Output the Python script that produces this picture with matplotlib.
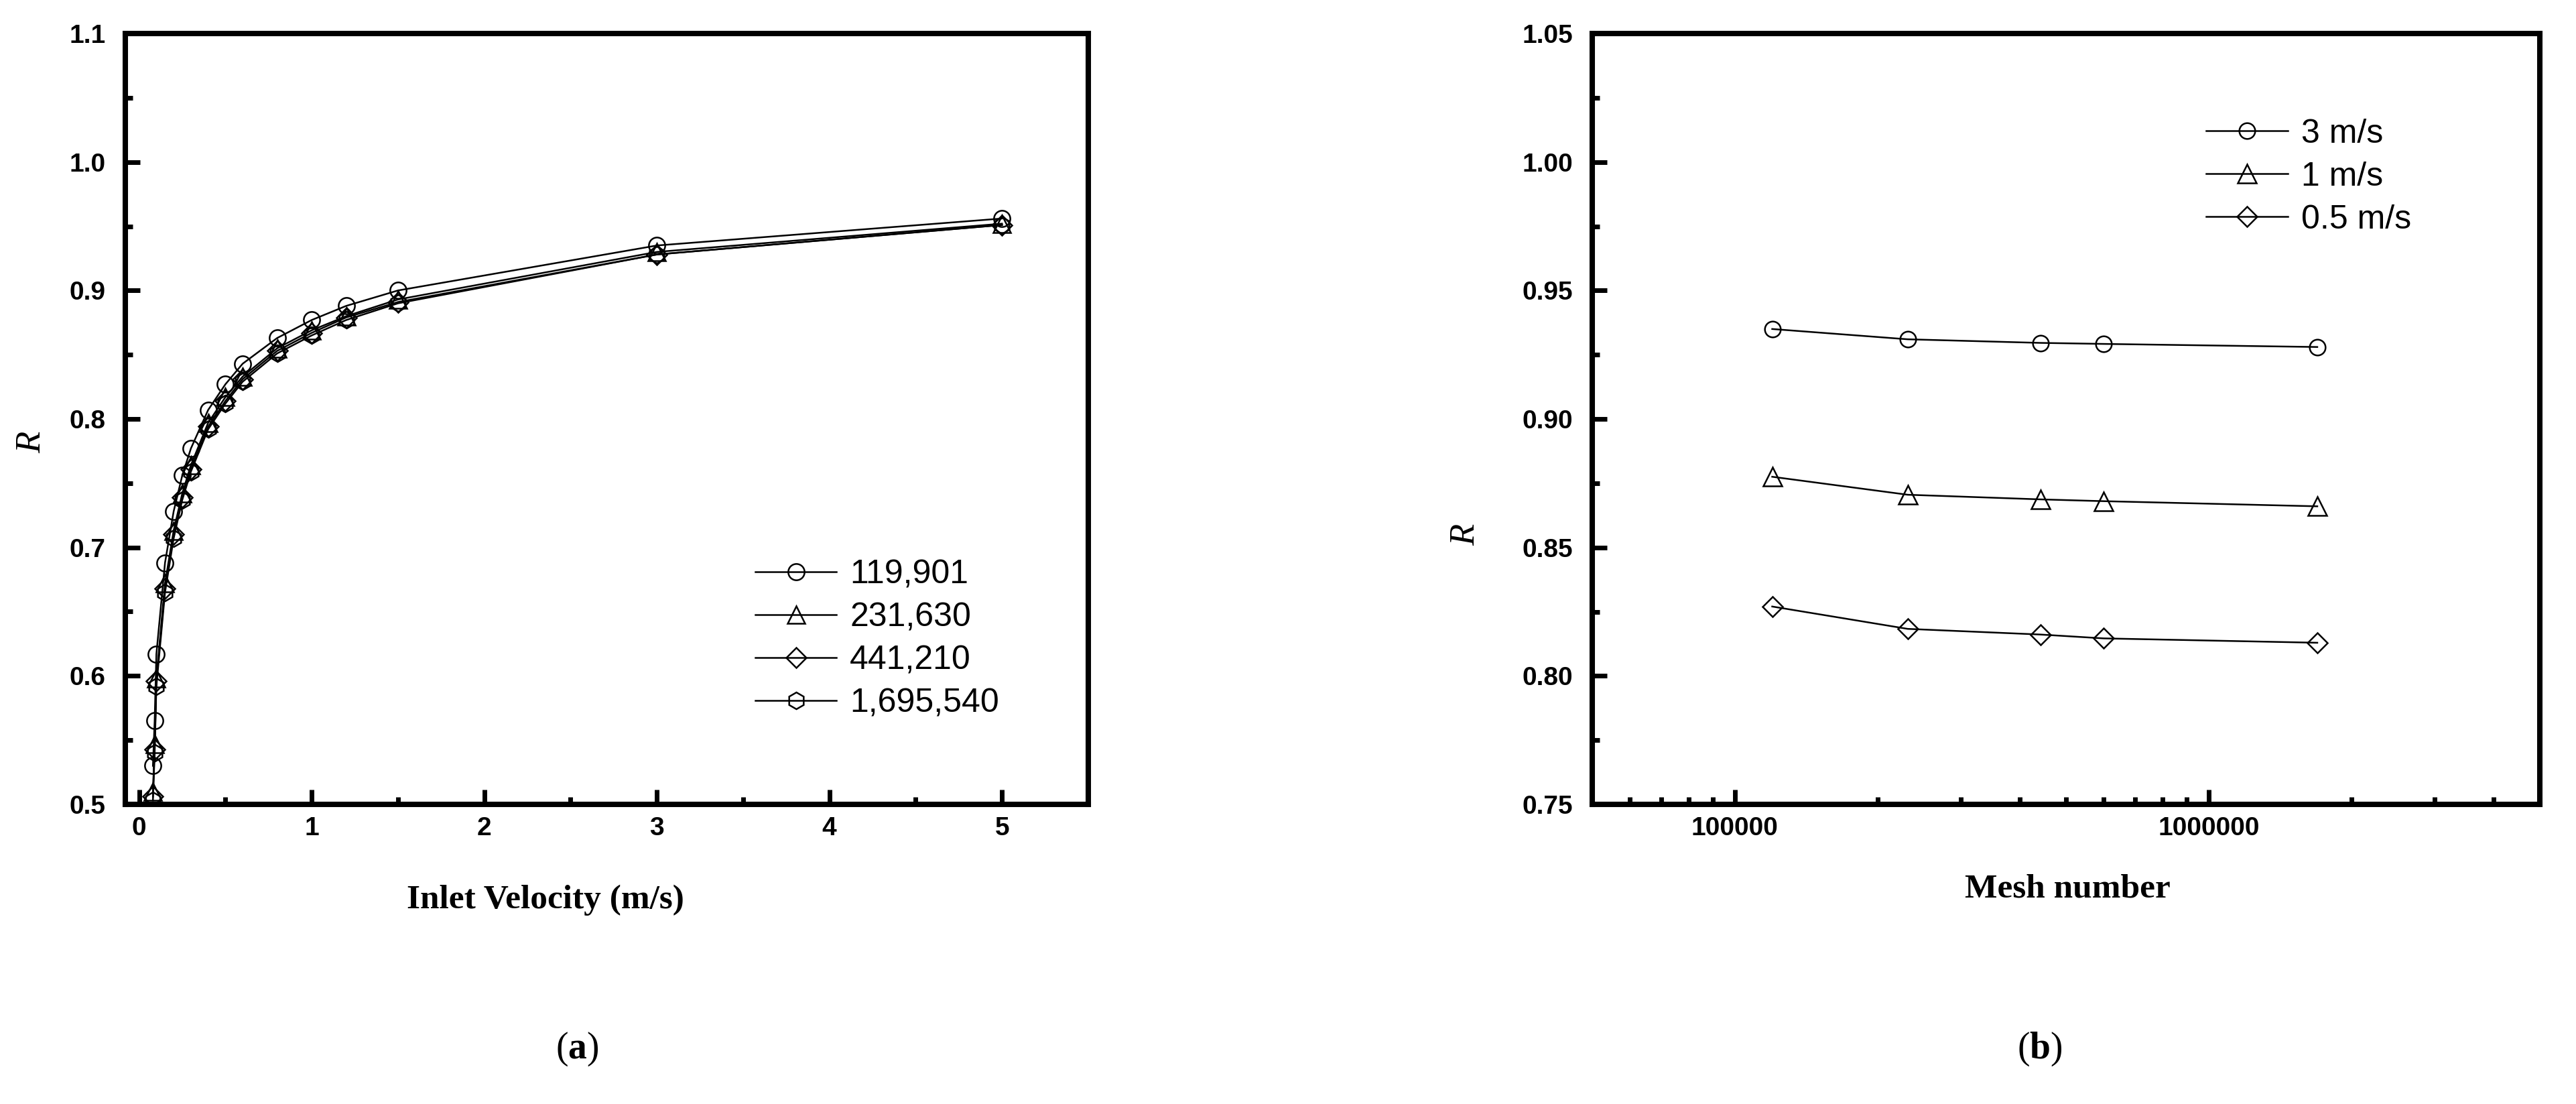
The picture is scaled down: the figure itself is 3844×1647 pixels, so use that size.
import matplotlib
matplotlib.use("Agg")
import matplotlib.pyplot as plt
from matplotlib.ticker import MultipleLocator, FixedLocator, LogLocator, NullFormatter, FuncFormatter, FormatStrFormatter

# ---------------- data ----------------
# panel (a): R vs inlet velocity for four meshes
velocity = [0.08, 0.09, 0.1, 0.15, 0.2, 0.25, 0.3, 0.4, 0.5, 0.6, 0.8, 1.0, 1.2, 1.5, 3.0, 5.0]
R_119901 = [0.530, 0.565, 0.617, 0.688, 0.728, 0.756, 0.777, 0.807, 0.827, 0.843, 0.863, 0.877, 0.888, 0.900, 0.935, 0.956]
R_231630 = [0.510, 0.547, 0.598, 0.672, 0.713, 0.742, 0.764, 0.797, 0.817, 0.833, 0.855, 0.869, 0.880, 0.893, 0.930, 0.952]
R_441210 = [0.506, 0.543, 0.596, 0.668, 0.710, 0.739, 0.761, 0.794, 0.814, 0.831, 0.853, 0.867, 0.879, 0.891, 0.928, 0.951]
R_1695540 = [0.503, 0.540, 0.592, 0.665, 0.707, 0.737, 0.759, 0.792, 0.812, 0.829, 0.851, 0.865, 0.877, 0.890, 0.928, 0.951]
mesh_labels = ["119,901", "231,630", "441,210", "1,695,540"]

# panel (b): R vs mesh number for three velocities
mesh_number = [119901, 231630, 441210, 600000, 1695540]
R_3ms = [0.935, 0.931, 0.9296, 0.9292, 0.928]
R_1ms = [0.8775, 0.8705, 0.8687, 0.8680, 0.866]
R_05ms = [0.827, 0.8183, 0.8161, 0.8146, 0.8129]
vel_labels = ["3 m/s", "1 m/s", "0.5 m/s"]

# ---------------- figure ----------------
W, H, DPI = 3844, 1647, 100
fig = plt.figure(figsize=(W / DPI, H / DPI), dpi=DPI)
plt.rcParams["mathtext.fontset"] = "custom"
plt.rcParams["mathtext.rm"] = "Liberation Serif"
plt.rcParams["mathtext.bf"] = "Liberation Serif:bold"

def px_axes(x0, x1, y0, y1):
    return fig.add_axes([x0 / W, 1 - y1 / H, (x1 - x0) / W, (y1 - y0) / H])

axA = px_axes(187, 1624, 50, 1200)
axB = px_axes(2376, 3790, 50, 1200)

tick_font = dict(family="Liberation Sans", weight="bold", size=28)
label_font = dict(family="Liberation Serif", weight="bold", size=37)
legend_font = dict(family="Liberation Sans", size=36)

def style(ax):
    for s in ax.spines.values():
        s.set_linewidth(5.8)
    ax.tick_params(which="both", direction="in", top=False, right=False, width=5)
    ax.tick_params(which="major", length=16)
    ax.tick_params(which="minor", length=8)
    ax.tick_params(axis="y", which="both", pad=21)
    ax.tick_params(axis="x", which="both", pad=13)
    for lab in ax.get_xticklabels() + ax.get_yticklabels():
        lab.set_fontfamily(tick_font["family"])
        lab.set_fontweight(tick_font["weight"])
        lab.set_fontsize(tick_font["size"])

lw, mew = 1.8, 1.8
# ---------------- panel (a) ----------------
series_a = [R_119901, R_231630, R_441210, R_1695540]
markers_a = ["o", "^", "D", "h"]
sizes_a = [17.5, 19, 15, 18]
handles_a = []
for ys, m, ms, lab in zip(series_a, markers_a, sizes_a, mesh_labels):
    h, = axA.plot(velocity, ys, color="black", lw=lw, marker=m, ms=ms, mfc="none",
                  mec="black", mew=mew, label=lab, clip_on=True)
    handles_a.append(h)
axA.set_xlim(-0.08, 5.5)
axA.set_ylim(0.5, 1.1)
axA.xaxis.set_major_locator(MultipleLocator(1))
axA.xaxis.set_minor_locator(MultipleLocator(0.5))
axA.yaxis.set_major_locator(MultipleLocator(0.1))
axA.yaxis.set_minor_locator(MultipleLocator(0.05))
axA.yaxis.set_major_formatter(FormatStrFormatter("%.1f"))
style(axA)
axA.set_xlabel("Inlet Velocity (m/s)", **label_font)
axA.xaxis.set_label_coords(0.436, -0.124)
axA.xaxis.label.set_va("center")
axA.set_ylabel("R", family="Liberation Serif", style="italic", size=38)
axA.yaxis.set_label_coords(-0.0974, 0.470)
axA.yaxis.label.set_va("center")
legA = axA.legend(handles=handles_a, loc="upper left", bbox_to_anchor=(0.654, 0.3176),
                  frameon=False, prop=legend_font, handlelength=2.43, handletextpad=0.4,
                  labelspacing=0.36, borderpad=0, borderaxespad=0, numpoints=1)

# ---------------- panel (b) ----------------
series_b = [R_3ms, R_1ms, R_05ms]
markers_b = ["o", "^", "D"]
sizes_b = [17, 20, 15]
handles_b = []
for ys, m, ms, lab in zip(series_b, markers_b, sizes_b, vel_labels):
    h, = axB.plot(mesh_number, ys, color="black", lw=lw, marker=m, ms=ms, mfc="none",
                  mec="black", mew=mew, label=lab)
    handles_b.append(h)
axB.set_xscale("log")
axB.set_xlim(5e4, 5e6)
axB.set_ylim(0.75, 1.05)
axB.xaxis.set_major_locator(FixedLocator([1e5, 1e6]))
axB.xaxis.set_major_formatter(FuncFormatter(lambda v, p: f"{int(round(v))}"))
axB.xaxis.set_minor_locator(LogLocator(base=10, subs=[2, 3, 4, 5, 6, 7, 8, 9], numticks=20))
axB.xaxis.set_minor_formatter(NullFormatter())
axB.yaxis.set_major_locator(MultipleLocator(0.05))
axB.yaxis.set_minor_locator(MultipleLocator(0.025))
axB.yaxis.set_major_formatter(FormatStrFormatter("%.2f"))
style(axB)
axB.set_xlabel("Mesh number", **label_font)
axB.xaxis.set_label_coords(0.5016, -0.110)
axB.xaxis.label.set_va("center")
axB.set_ylabel("R", family="Liberation Serif", style="italic", size=38)
axB.yaxis.set_label_coords(-0.1336, 0.350)
axB.yaxis.label.set_va("center")
legB = axB.legend(handles=handles_b, loc="upper left", bbox_to_anchor=(0.648, 0.8896),
                  frameon=False, prop=legend_font, handlelength=2.43, handletextpad=0.4,
                  labelspacing=0.36, borderpad=0, borderaxespad=0, numpoints=1)

# ---------------- panel captions ----------------
fig.text(861 / W, 1 - 1565 / H, r"($\mathbf{a}$)", family="Liberation Serif", size=40,
         ha="center", va="center")
fig.text(3044 / W, 1 - 1565 / H, r"($\mathbf{b}$)", family="Liberation Serif", size=40,
         ha="center", va="center")

fig.savefig("out.png", dpi=DPI, facecolor="white")
